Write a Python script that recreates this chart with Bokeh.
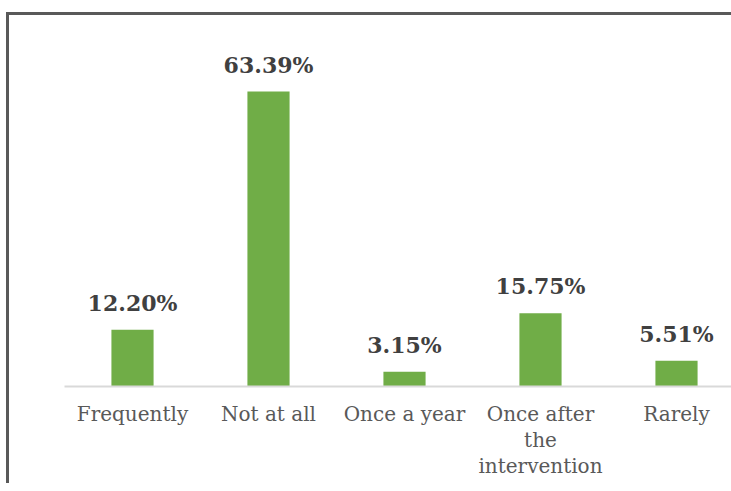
from bokeh.plotting import figure
from bokeh.models import ColumnDataSource, Range1d, FixedTicker
from bokeh.layouts import column
from bokeh.core.properties import value
from bokeh.embed import file_html
from bokeh.resources import INLINE

categories = ["Frequently", "Not at all", "Once a year", "Once after\nthe\nintervention", "Rarely"]
values = [12.20, 63.39, 3.15, 15.75, 5.51]
labels = ["12.20%", "63.39%", "3.15%", "15.75%", "5.51%"]

xs = [i + 0.5 for i in range(len(categories))]
src = ColumnDataSource(dict(x=xs, top=values, label=labels))

W, H = 722, 468
left, bottom, top = 55, 97, 10
frame_w = W - left
px_per_cat = 136.0
px_per_unit = 295 / 63.39

p = figure(width=W, height=H, output_backend="svg", toolbar_location=None,
           x_range=Range1d(0, frame_w / px_per_cat),
           y_range=Range1d(0, (H - bottom - top) / px_per_unit),
           min_border_left=left, min_border_right=0, min_border_top=top,
           min_border_bottom=bottom, y_axis_type=None)
p.outline_line_color = None
p.grid.visible = False
p.background_fill_color = "white"
p.border_fill_color = "white"

p.vbar(x="x", top="top", width=0.31, bottom=0, source=src,
       fill_color="#70ad47", line_color=None)
p.text(x="x", y="top", text="label", source=src, text_align="center",
       text_baseline="alphabetic", y_offset=-27,
       text_font=value("DejaVu Serif"), text_font_style="bold",
       text_font_size="22px", text_color="#404040")

ax = p.xaxis[0]
ax.ticker = FixedTicker(ticks=xs)
ax.major_label_overrides = {x: c for x, c in zip(xs, categories)}
ax.major_tick_line_color = None
ax.minor_tick_line_color = None
ax.axis_line_color = "#d9d9d9"
ax.axis_line_width = 2
ax.major_label_text_font = "DejaVu Serif"
ax.major_label_text_font_size = "20px"
ax.major_label_text_color = "#595959"
ax.major_label_standoff = 9
ax.major_label_text_line_height = 1.1

layout = column(p, styles={"border-top": "3px solid #595959",
                           "border-left": "3px solid #595959",
                           "margin-top": "12px", "margin-left": "6px"})

open("out.html", "w").write(file_html(layout, INLINE))
